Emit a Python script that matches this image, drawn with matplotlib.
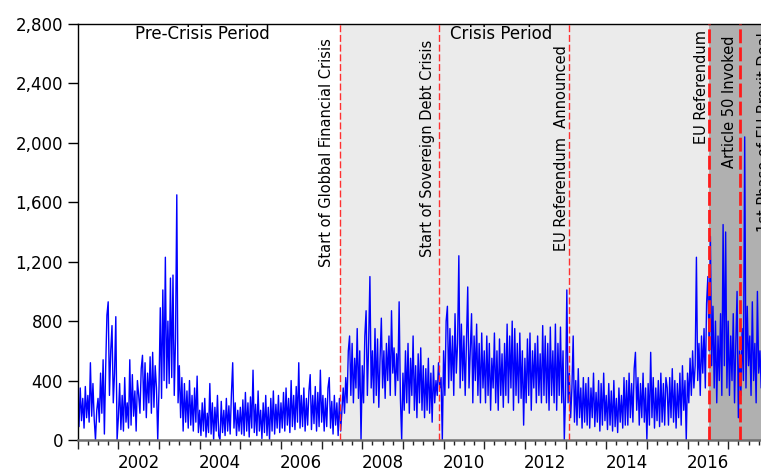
import numpy as np
import matplotlib
matplotlib.use('Agg')
import matplotlib.pyplot as plt
from matplotlib.ticker import FixedLocator, FuncFormatter

# ── Series values, 32 samples per year from 2001.0 ──
START_YEAR = 2001.0
STEP = 1.0 / 32

vals_2001 = [220, 90, 350, 130, 280, 80, 360, 150, 300, 120, 520, 160, 380, 140, 0, 200,
             280, 120, 450, 180, 540, 40, 480, 840, 930, 300, 600, 770, 250, 450, 830, 0]
vals_2002 = [150, 380, 70, 300, 60, 420, 120, 250, 80, 540, 100, 440, 160, 330, 60, 400,
             300, 180, 480, 570, 200, 520, 150, 450, 250, 560, 180, 590, 220, 500, 350, 0]
vals_2003 = [350, 890, 280, 1010, 400, 1230, 350, 800, 380, 1090, 420, 1110, 300, 680, 1650, 250,
             500, 150, 420, 60, 380, 120, 330, 80, 400, 100, 300, 60, 350, 120, 430, 50]
vals_2004 = [200, 30, 250, 60, 280, 20, 180, 50, 380, 40, 250, 0, 220, 60, 300, 30,
             0, 260, 50, 200, 30, 280, 60, 230, 40, 310, 520, 80, 250, 30, 200, 60]
vals_2005 = [220, 40, 270, 30, 320, 60, 250, 20, 290, 80, 470, 50, 240, 30, 330, 60,
             200, 10, 250, 50, 300, 30, 220, 0, 280, 60, 330, 40, 240, 80, 300, 50]
vals_2006 = [250, 80, 320, 60, 350, 100, 280, 50, 400, 90, 300, 70, 360, 120, 520, 80,
             300, 90, 350, 60, 280, 100, 330, 440, 70, 300, 110, 360, 60, 320, 90, 470]
vals_2007 = [120, 300, 60, 280, 90, 350, 420, 80, 260, 40, 300, 100, 250, 30, 280, 60,
             200, 350, 180, 420, 250, 600, 700, 300, 650, 250, 550, 350, 750, 280, 600, 0]
vals_2008 = [500, 250, 700, 870, 300, 650, 1100, 350, 600, 250, 750, 300, 680, 220, 550, 820,
             350, 600, 280, 650, 400, 700, 300, 870, 450, 620, 300, 580, 400, 930, 280, 0]
vals_2009 = [450, 200, 600, 250, 650, 180, 550, 300, 700, 200, 500, 150, 580, 250, 620, 200,
             500, 150, 480, 200, 550, 180, 450, 120, 500, 250, 400, 300, 520, 350, 420, 0]
vals_2010 = [600, 300, 800, 900, 350, 750, 400, 700, 300, 850, 450, 650, 1240, 350, 780, 400,
             700, 300, 650, 1030, 350, 600, 850, 250, 700, 400, 780, 300, 650, 250, 720, 350]
vals_2011 = [600, 250, 700, 300, 650, 200, 550, 350, 720, 250, 600, 200, 680, 300, 580, 220,
             650, 300, 780, 250, 700, 350, 800, 200, 750, 300, 650, 250, 720, 280, 600, 100]
vals_2012 = [550, 250, 680, 300, 720, 200, 600, 350, 650, 250, 700, 300, 580, 250, 770, 300,
             700, 250, 650, 200, 760, 300, 600, 250, 780, 200, 650, 300, 760, 250, 600, 0]
vals_2013 = [300, 1010, 250, 450, 150, 350, 700, 120, 400, 100, 480, 150, 350, 80, 420, 120,
             380, 100, 420, 80, 350, 150, 450, 90, 320, 120, 400, 60, 380, 100, 450, 130]
vals_2014 = [300, 70, 380, 100, 330, 60, 400, 90, 280, 50, 350, 120, 300, 80, 420, 100,
             400, 100, 450, 150, 380, 120, 480, 590, 200, 420, 100, 380, 150, 450, 120, 350]
vals_2015 = [0, 380, 100, 590, 150, 420, 80, 350, 130, 400, 90, 450, 120, 380, 100, 420,
             350, 100, 420, 150, 480, 120, 400, 80, 380, 150, 450, 100, 500, 200, 400, 0]
vals_2016 = [450, 250, 550, 300, 600, 350, 500, 1230, 400, 650, 300, 700, 450, 750, 350, 920,
             1100, 600, 1370, 500, 900, 350, 800, 250, 700, 400, 850, 300, 1450, 500, 1400, 350]
vals_2017 = [800, 300, 700, 400, 850, 250, 650, 1000, 150, 600, 300, 750, 400, 2040, 350, 900,
             500, 700, 300, 930, 400, 650, 250, 1000, 450, 600, 350, 750, 400, 700, 450, 600]

# ── Events ──
EVENT_DATES = [2007.46, 2009.89, 2013.09, 2016.52, 2017.28, 2017.94]
EVENT_LABELS = ['Start of Globbal Financial Crisis', 'Start of Sovereign Debt Crisis',
                'EU Referendum  Announced', 'EU Referendum', 'Article 50 Invoked',
                '1st Phase of EU Brexit Deal']
LABEL_X = [2007.12, 2009.60, 2012.91, 2016.35, 2017.03, 2017.90]
LABEL_Y = [2705, 2692, 2658, 2759, 2725, 2746]

PERIOD_LABELS = ['Pre-Crisis Period', 'Crisis Period']
PERIOD_X = [2004.07, 2011.41]
PERIOD_Y = 2732

YTICKS = [0, 400, 800, 1200, 1600, 2000, 2400, 2800]
YEAR_LABELS = list(range(2002, 2018, 2))


def main():
    values = np.array(vals_2001 + vals_2002 + vals_2003 + vals_2004 + vals_2005 +
                      vals_2006 + vals_2007 + vals_2008 + vals_2009 + vals_2010 +
                      vals_2011 + vals_2012 + vals_2013 + vals_2014 + vals_2015 +
                      vals_2016 + vals_2017, dtype=float)
    years = START_YEAR + STEP * np.arange(len(values))

    fig = plt.figure(figsize=(7.61, 4.73), dpi=100)
    ax = fig.add_axes([0.1021, 0.0698, 0.9082, 0.8795])

    # shaded periods
    ax.axvspan(EVENT_DATES[0], EVENT_DATES[3], color='#ebebeb', zorder=0, lw=0)
    ax.axvspan(EVENT_DATES[3], 2019, color='#b0b0b0', zorder=0, lw=0)

    ax.plot(years, values, color='#0000ff', lw=1.0, zorder=2)

    # event lines
    for i, d in enumerate(EVENT_DATES):
        if i < 3:
            ax.axvline(d, color='#ff3030', lw=1.0, ls=(0, (5, 2)), zorder=3)
        else:
            ax.axvline(d, color='#ff1a1a', lw=2.0, ls=(0, (5, 1.5)), zorder=3)
    for x, y, lab in zip(LABEL_X, LABEL_Y, EVENT_LABELS):
        ax.text(x, y, lab, rotation=90, ha='center', va='top', fontsize=10.5,
                color='black', zorder=4)

    for x, lab in zip(PERIOD_X, PERIOD_LABELS):
        ax.text(x, PERIOD_Y, lab, ha='center', va='center', fontsize=12, zorder=4)

    ax.set_xlim(2001.0, 2018.0)
    ax.set_ylim(0, 2800)

    ax.yaxis.set_major_locator(FixedLocator(YTICKS))
    ax.yaxis.set_major_formatter(FuncFormatter(lambda v, p: f'{int(v):,}'))
    ax.tick_params(axis='y', direction='out', length=7, width=1, pad=3.5,
                   labelsize=12, colors='black')

    ax.xaxis.set_major_locator(FixedLocator(np.arange(2001, 2019)))
    ax.xaxis.set_minor_locator(FixedLocator(np.arange(2001, 2018.01, 0.25)))
    ax.set_xticklabels([])
    ax.tick_params(axis='x', which='major', direction='out', length=6.5, width=1,
                   color='#222222')
    ax.tick_params(axis='x', which='minor', direction='out', length=3.6, width=1,
                   color='#222222')
    for yr in YEAR_LABELS:
        ax.text(yr + 0.5, -0.0565, str(yr), transform=ax.get_xaxis_transform(),
                ha='center', va='center', fontsize=12, clip_on=False)

    ax.spines['left'].set_color('black')
    ax.spines['left'].set_linewidth(1.0)
    ax.spines['top'].set_color('black')
    ax.spines['top'].set_linewidth(1.0)
    ax.spines['bottom'].set_color('#6e6e6e')
    ax.spines['bottom'].set_linewidth(1.8)
    ax.spines['right'].set_visible(False)

    fig.savefig('out.png', dpi=100, facecolor='white')
    plt.close(fig)


if __name__ == '__main__':
    main()
